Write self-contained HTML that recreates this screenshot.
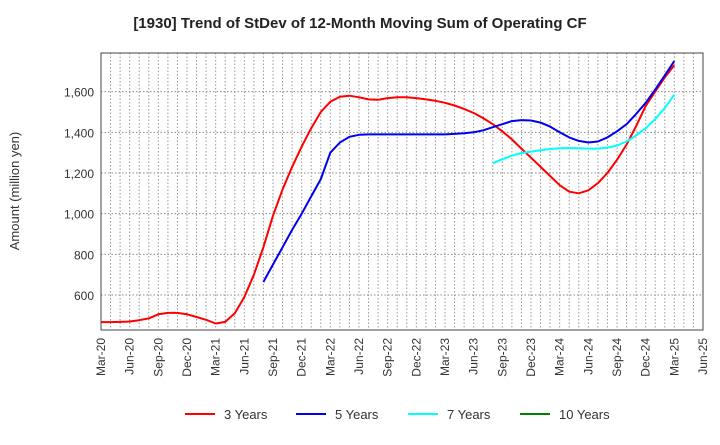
<!DOCTYPE html>
<html><head><meta charset="utf-8"><style>
body{margin:0;background:#fff;font-family:"Liberation Sans",sans-serif}
svg text{font-family:"Liberation Sans",sans-serif}
</style></head><body>
<svg id="c" width="720" height="440" xmlns="http://www.w3.org/2000/svg">
<text x="360" y="28" text-anchor="middle" font-size="15" font-weight="bold" fill="#222">[1930]  Trend of StDev of 12-Month Moving Sum of Operating CF</text>
<text transform="translate(19,191) rotate(-90)" text-anchor="middle" font-size="13" fill="#333">Amount (million yen)</text>
<g id="grid"></g><g id="series"></g><g id="axes"></g><g id="legend"></g>
</svg>
<script>
const xTicks=["Mar-20","Jun-20","Sep-20","Dec-20","Mar-21","Jun-21","Sep-21","Dec-21","Mar-22","Jun-22","Sep-22","Dec-22","Mar-23","Jun-23","Sep-23","Dec-23","Mar-24","Jun-24","Sep-24","Dec-24","Mar-25","Jun-25"];
const yTicks=[600,800,1000,1200,1400,1600];
const seriesNames=["3 Years","5 Years","7 Years","10 Years"];
const red=[467,467,468,470,476,485,505,512,512,505,492,478,460,468,510,590,700,835,990,1120,1230,1330,1420,1500,1550,1575,1580,1572,1562,1560,1568,1572,1572,1568,1562,1555,1545,1532,1515,1495,1470,1440,1405,1365,1320,1275,1230,1185,1140,1108,1100,1115,1150,1200,1265,1340,1430,1530,1600,1670,1730];
const blueStart=17;
const blue=[664,750,835,920,1000,1085,1170,1300,1350,1378,1388,1390,1390,1390,1390,1390,1390,1390,1390,1390,1392,1395,1400,1410,1425,1440,1455,1460,1458,1448,1428,1400,1375,1358,1350,1355,1375,1405,1440,1490,1545,1610,1680,1750];
const cyanStart=41;
const cyan=[1248,1268,1285,1298,1305,1312,1318,1322,1323,1322,1320,1320,1325,1335,1355,1385,1420,1465,1520,1585];
const green=[];
const L=101,R=703,T=53,B=330,yMin=428,yMax=1790,nMonths=63;
const xs=m=>L+(R-L)*m/nMonths;
const ys=v=>B-(B-T)*(v-yMin)/(yMax-yMin);
const NS="http://www.w3.org/2000/svg";
function mk(t,a,p){const e=document.createElementNS(NS,t);for(const k in a)e.setAttribute(k,a[k]);p.appendChild(e);return e;}
const g=document.getElementById('grid'),ax=document.getElementById('axes'),sg=document.getElementById('series'),lg=document.getElementById('legend');
for(let m=1;m<nMonths;m++){const l=mk('line',{x1:xs(m),x2:xs(m),y1:T,y2:B,stroke:'#999','stroke-width':1,'stroke-dasharray':'1.5,2'},g);

}
yTicks.forEach(v=>{const l=mk('line',{x1:L,x2:R,y1:ys(v),y2:ys(v),stroke:'#888','stroke-width':1,'stroke-dasharray':'1.5,2'},g);


const t=mk('text',{x:L-7,y:ys(v)+5,'text-anchor':'end','font-size':12,fill:'#333'},ax);t.textContent=v.toLocaleString('en-US');

});
xTicks.forEach((s,i)=>{const x=xs(i*3);const t=mk('text',{transform:`translate(${x+4},${B+8}) rotate(-90)`,'text-anchor':'end','font-size':12,fill:'#333'},ax);t.textContent=s;

});
const frame=mk('rect',{x:L,y:T,width:R-L,height:B-T,fill:'none',stroke:'#444','stroke-width':1},ax);


function line(arr,start,color,name){if(!arr.length)return;const d=arr.map((v,i)=>(i?'L':'M')+xs(start+i).toFixed(1)+','+ys(v).toFixed(1)).join('');
const p=mk('path',{d:d,fill:'none',stroke:color,'stroke-width':2,'stroke-linejoin':'round'},sg);

}
line(red,0,'#ff0000','line-3-years');line(blue,blueStart,'#0000ee','line-5-years');line(cyan,cyanStart,'#00ffff','line-7-years');line(green,0,'#008000','line-10-years');
const colors=['#ff0000','#0000ee','#00ffff','#008000'],lx=[185,296,408,520];
seriesNames.forEach((n,i)=>{const e=mk('g',{},lg);


mk('line',{x1:lx[i],x2:lx[i]+30,y1:414,y2:414,stroke:colors[i],'stroke-width':2},e);
const t=mk('text',{x:lx[i]+39,y:419,'font-size':13,fill:'#333'},e);t.textContent=n;});
</script>
</body></html>
